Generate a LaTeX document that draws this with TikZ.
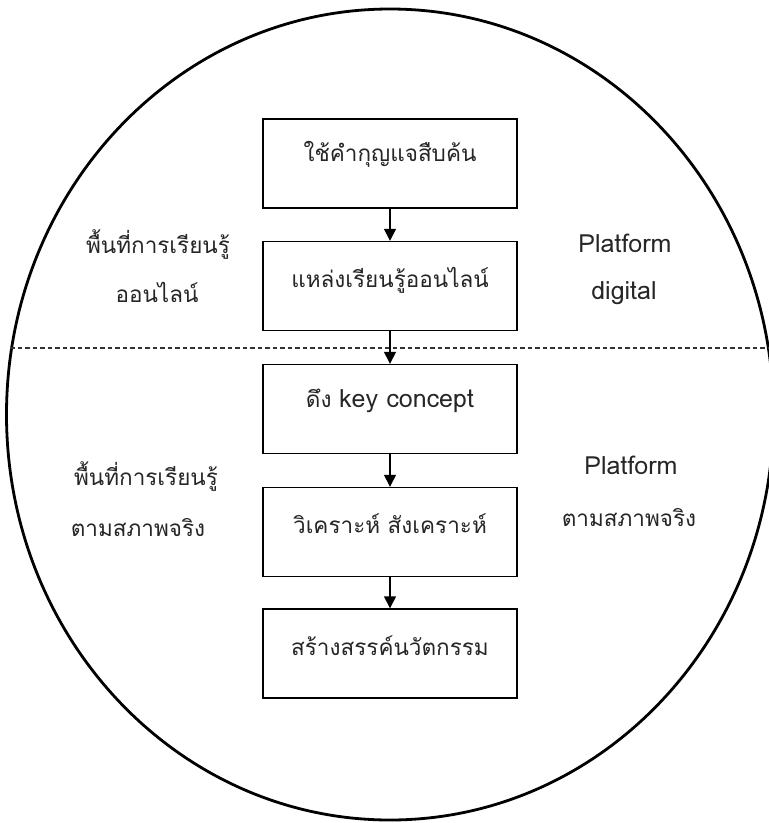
\documentclass[tikz,border=0pt]{standalone}
\usepackage{fontspec}
\setmainfont[Script=Thai]{Loma}
\newcommand{\lat}[1]{{\fontsize{25}{28}\selectfont #1}}
\usetikzlibrary{arrows.meta}
\tikzset{
  stepbox/.style={draw=black, line width=1.4pt, minimum width=254pt, minimum height=89pt, inner sep=0pt},
  boxtext/.style={font=\fontsize{22.5}{26}\selectfont, text=black!85, inner sep=0pt},
  sidetext/.style={font=\fontsize{22.5}{26}\selectfont, text=black!85, inner sep=0pt},
  flow/.style={line width=1.4pt, -{Triangle[length=12pt,width=12pt]}},
}
\begin{document}
\begin{tikzpicture}[x=1pt,y=1pt]
\useasboundingbox (0,0) rectangle (769,-823);
\fill[white] (0,0) rectangle (769,-823);
\draw[line width=2.8pt] (390,-414.5) ellipse [x radius=383.5, y radius=405.5];
\coordinate (dl) at (10,-348);
\coordinate (dr) at (769,-348);
\draw[dashed, dash pattern=on 4.5pt off 3pt, line width=1.3pt, black!80] (dl) -- (dr);

\node[stepbox] (b1) at (390,-163.5) {};
\node[stepbox] (b2) at (390,-286) {};
\node[stepbox] (b3) at (390,-409) {};
\node[stepbox] (b4) at (390,-532) {};
\node[stepbox] (b5) at (390,-653.5) {};

\node[boxtext] (t1) at ([yshift=9]b1.center) {ใช้คำกุญแจสืบค้น};
\node[boxtext] (t2) at ([yshift=6]b2.center) {แหล่งเรียนรู้ออนไลน์};
\node[boxtext] (t3) at ([yshift=8]b3.center) {ดึง \lat{key concept}};
\node[boxtext] (t4) at ([yshift=8]b4.center) {วิเคราะห์ สังเคราะห์};
\node[boxtext] (t5) at ([yshift=8]b5.center) {สร้างสรรค์นวัตกรรม};

\draw[flow] (b1.south) -- (b2.north);
\draw[flow] (b2.south) -- (b3.north);
\draw[flow] (b3.south) -- (b4.north);
\draw[flow] (b4.south) -- (b5.north);

\node[sidetext] (l1) at (158,-245) {พื้นที่การเรียนรู้};
\node[sidetext] (l2) at (157,-292) {ออนไลน์};
\node[sidetext] (l3) at (146,-477) {พื้นที่การเรียนรู้};
\node[sidetext] (l4) at (138,-528) {ตามสภาพจริง};

\node[sidetext] (r1) at (625,-243) {\lat{Platform}};
\node[sidetext] (r2) at (624,-293) {\lat{digital}};
\node[sidetext] (r3) at (631,-465) {\lat{Platform}};
\node[sidetext] (r4) at (629,-518) {ตามสภาพจริง};
\end{tikzpicture}
\end{document}
